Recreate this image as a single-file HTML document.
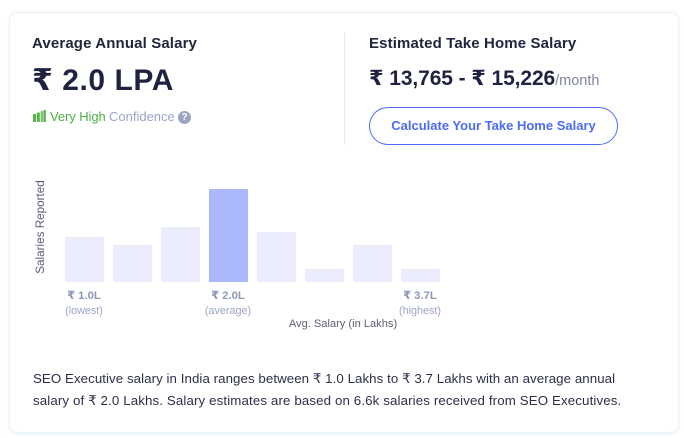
<!DOCTYPE html>
<html lang="en">
<head>
<meta charset="utf-8">
<title>Average Annual Salary</title>
<style>
html,body{margin:0;padding:0;background:#fff;}
body{width:684px;height:438px;position:relative;overflow:hidden;font-family:"Liberation Sans","DejaVu Sans",sans-serif;}
.t{position:absolute;white-space:nowrap;line-height:1;}
#card{position:absolute;left:9px;top:12px;width:670px;height:421px;box-sizing:border-box;border:1px solid #e9f1f8;border-radius:8px;box-shadow:0 1px 3px rgba(200,212,235,.35);background:#fff;}
</style>
</head>
<body>
<div id="card"></div>

<div class="t" style="left:32px;top:36px;font-size:15px;font-weight:700;color:#22253f;letter-spacing:.13px;">Average Annual Salary</div>
<div class="t" style="left:32px;top:66px;font-size:30px;font-weight:700;color:#1f2340;letter-spacing:.55px;">₹ 2.0 LPA</div>

<svg style="position:absolute;left:33px;top:110px;" width="13" height="12" viewBox="0 0 13 12">
  <rect x="0" y="4" width="3" height="8" fill="#59b14f"/>
  <rect x="3.8" y="2.5" width="3" height="9.5" fill="#59b14f"/>
  <rect x="7.6" y="1" width="2.4" height="11" fill="#7cc572"/>
  <rect x="10.4" y="0" width="2.4" height="12" fill="#59b14f"/>
</svg>
<div class="t" style="left:50px;top:110px;font-size:13px;color:#4caf45;letter-spacing:-.08px;">Very High</div>
<div class="t" style="left:109px;top:110px;font-size:13px;color:#9da5c6;">Confidence</div>
<div class="t" style="left:178px;top:111px;width:13px;height:13px;border-radius:50%;background:#9da5c6;color:#fff;font-size:10px;font-weight:700;line-height:13px;text-align:center;">?</div>

<div style="position:absolute;left:344px;top:33px;width:1px;height:112px;background:#e6e8ee;"></div>

<div class="t" style="left:369px;top:36px;font-size:15px;font-weight:700;color:#22253f;letter-spacing:.13px;">Estimated Take Home Salary</div>
<div class="t" style="left:369px;top:68px;font-size:21px;font-weight:700;color:#1f2340;letter-spacing:-.1px;">₹ 13,765 - ₹ 15,226<span style="font-size:14.5px;font-weight:400;color:#7f84a0;letter-spacing:0;">/month</span></div>

<div style="position:absolute;left:369px;top:107px;width:249px;height:38px;box-sizing:border-box;border:1px solid #4d6bf5;border-radius:19px;background:#fff;color:#4d6bf5;font-size:13px;font-weight:700;line-height:36px;text-align:center;">Calculate Your Take Home Salary</div>

<svg id="chart" style="position:absolute;left:0;top:170px;" width="684" height="170" viewBox="0 170 684 170"></svg>

<div class="t" style="left:33px;top:372px;font-size:13.3px;color:#2c2f48;letter-spacing:.06px;">SEO Executive salary in India ranges between ₹ 1.0 Lakhs to ₹ 3.7 Lakhs with an average annual</div>
<div class="t" style="left:33px;top:394px;font-size:13.3px;color:#2c2f48;letter-spacing:.12px;">salary of ₹ 2.0 Lakhs. Salary estimates are based on 6.6k salaries received from SEO Executives.</div>

<script>
var categories = ['b1', 'b2', 'b3', 'b4', 'b5', 'b6', 'b7', 'b8'];
var salariesReported = [45, 37, 55, 93, 50, 13, 37, 13];
var highlightedCategory = 'b4';
var tickCategories = ['b1', 'b4', 'b8'];
var tickLabels = ['₹ 1.0L', '₹ 2.0L', '₹ 3.7L'];
var tickNotes = ['(lowest)', '(average)', '(highest)'];
var yAxisTitle = 'Salaries Reported';
var xAxisTitle = 'Avg. Salary (in Lakhs)';

var svg = document.getElementById('chart');
var NS = 'http://www.w3.org/2000/svg';
var plotLeft = 65, bandStep = 48, barWidth = 39, baseline = 282, pxPerUnit = 1;

function xScale(category) {
  return plotLeft + categories.indexOf(category) * bandStep;
}
function yScale(value) {
  return baseline - value * pxPerUnit;
}
function addText(str, x, y, size, fill, anchor) {
  var el = document.createElementNS(NS, 'text');
  el.setAttribute('x', x);
  el.setAttribute('y', y);
  el.setAttribute('font-size', size);
  el.setAttribute('fill', fill);
  el.setAttribute('text-anchor', anchor);
  el.setAttribute('font-family', '"Liberation Sans","DejaVu Sans",sans-serif');
  el.textContent = str;
  svg.appendChild(el);
  return el;
}

categories.forEach(function (category, i) {
  var rect = document.createElementNS(NS, 'rect');
  
  
  rect.setAttribute('x', xScale(category));
  rect.setAttribute('y', yScale(salariesReported[i]));
  rect.setAttribute('width', barWidth);
  rect.setAttribute('height', baseline - yScale(salariesReported[i]));
  rect.setAttribute('fill', category === highlightedCategory ? '#abb8fd' : '#eaecfc');
  svg.appendChild(rect);
});

tickCategories.forEach(function (category, i) {
  var cx = xScale(category) + barWidth / 2;
  var label = addText(tickLabels[i], cx - 0.5, 299, 11.3, '#8f96b8', 'middle');
  label.setAttribute('font-weight', '700');
  
  
  var note = addText(tickNotes[i], cx - 0.5, 314, 10.8, '#9da5c6', 'middle');
  
  
});

var xTitle = addText(xAxisTitle, 343, 327, 11.1, '#5d6078', 'middle');



var yTitle = addText(yAxisTitle, 0, 0, 11.7, '#5d6078', 'middle');
yTitle.setAttribute('transform', 'translate(44 227) rotate(-90)');


</script>
</body>
</html>
